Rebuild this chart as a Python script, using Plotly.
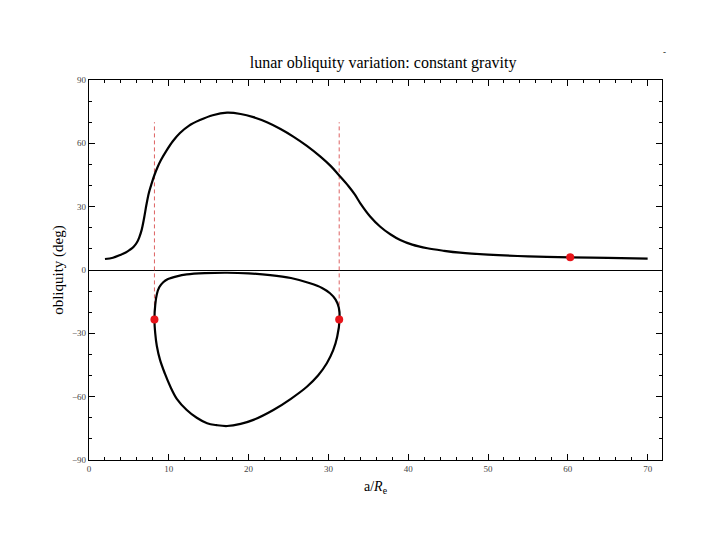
import plotly.graph_objects as go

# Upper branch of the obliquity curve
x_upper = [2.0, 3.0, 3.9, 4.6, 5.1, 5.6, 6.0, 6.3, 6.6, 6.9, 7.2, 7.5, 7.85, 8.2, 8.6, 9.0, 9.75,
           10.5, 11.4, 12.5, 13.9, 15.5, 17.3, 19.0, 20.6, 22.3, 24.0, 25.6, 27.3, 29.0,
           30.3, 31.3, 32.5, 33.3, 34.0, 35.2, 36.5, 37.8, 39.0, 40.5, 42.4, 44.5, 46.5,
           50.0, 55.0, 60.3, 65.0, 70.0]
y_upper = [5.2, 5.8, 7.1, 8.3, 9.5, 11.0, 13.0, 15.5, 19.0, 24.5, 31.0, 36.5, 41.0, 45.0, 48.8, 52.0, 56.8,
           61.0, 64.9, 68.3, 71.0, 73.3, 74.5, 73.9, 72.4, 70.0, 66.8, 63.2, 58.8, 53.7,
           49.2, 45.0, 39.8, 35.8, 31.6, 25.5, 20.5, 16.8, 14.2, 12.0, 10.3, 9.1, 8.2,
           7.3, 6.5, 6.0, 5.7, 5.4]

# Lower closed loop
x_loop = [8.2, 8.3, 8.5, 8.8, 9.3, 9.9, 11.0, 12.25, 14.5, 17.3, 20.0, 22.7, 25.3, 27.7, 29.2,
          30.2, 30.9, 31.3, 31.4, 31.1, 30.6, 29.8, 28.7, 27.3, 25.3, 23.1, 20.6, 19.0,
          17.3, 16.0, 14.8, 13.5, 12.25, 11.0, 10.2, 9.5, 8.9, 8.5, 8.3, 8.2]
y_loop = [-23.4, -16.5, -11.5, -8.2, -5.8, -4.3, -3.0, -2.1, -1.5, -1.3, -1.6, -2.4, -3.8, -6.3, -8.5,
          -11.0, -14.0, -17.8, -23.4, -31.6, -38.0, -44.2, -50.0, -55.3, -61.0, -66.3, -71.0, -72.9,
          -73.9, -73.5, -72.6, -70.0, -66.3, -61.0, -55.3, -49.0, -42.6, -36.0, -30.0, -23.4]

# Vertical dashed markers
dash_x = [8.2, 31.35]
dash_y_bottom = -23.4
dash_y_top = 70.0

# Red points
pt_x = [8.2, 31.35, 60.3]
pt_y = [-23.4, -23.4, 6.0]

x_ticks = [0, 10, 20, 30, 40, 50, 60, 70]
y_ticks = [-90, -60, -30, 0, 30, 60, 90]

serif = "Liberation Serif"

fig = go.Figure()

for xv in dash_x:
    fig.add_trace(go.Scatter(x=[xv, xv], y=[dash_y_bottom, dash_y_top], mode="lines",
                             line=dict(color="rgba(215,70,70,0.85)", width=1, dash="4px,3px"),
                             showlegend=False, hoverinfo="skip"))

fig.add_trace(go.Scatter(x=x_upper, y=y_upper, mode="lines",
                         line=dict(color="black", width=2.2, shape="spline", smoothing=1.0),
                         showlegend=False))
fig.add_trace(go.Scatter(x=x_loop, y=y_loop, mode="lines",
                         line=dict(color="black", width=2.2, shape="spline", smoothing=1.0),
                         showlegend=False))
fig.add_trace(go.Scatter(x=pt_x, y=pt_y, mode="markers",
                         marker=dict(color="#e8141a", size=8),
                         showlegend=False))

axis_common = dict(
    showgrid=False, showline=True, linecolor="black", linewidth=1.2,
    mirror="ticks", ticks="inside", ticklen=6, tickcolor="black", tickwidth=1,
    tickfont=dict(family=serif, size=9, color="#444"),
)

fig.update_xaxes(range=[0, 71.8], tickvals=x_ticks, zeroline=False,
                 minor=dict(dtick=2, ticklen=3, ticks="inside", tickcolor="black"),
                 title=dict(text="a/<i>R</i><sub>e</sub>", font=dict(family=serif, size=14, color="black"),
                            standoff=8),
                 **axis_common)
fig.update_yaxes(range=[-90, 90], tickvals=y_ticks, zeroline=True, zerolinecolor="black",
                 zerolinewidth=1.2,
                 minor=dict(dtick=10, ticklen=3, ticks="inside", tickcolor="black"),
                 title=dict(text="obliquity (deg)", font=dict(family=serif, size=15, color="black"),
                            standoff=4),
                 **axis_common)

fig.update_layout(
    width=720, height=540,
    margin=dict(l=81, r=66, t=72, b=88),
    paper_bgcolor="white", plot_bgcolor="white",
    title=dict(text="lunar obliquity variation: constant gravity", x=0.521, xanchor="center",
               y=0.9, yanchor="middle",
               font=dict(family=serif, size=16, color="black")),
    annotations=[dict(text="-", x=(664 - 89) / (662 - 89), y=(460 - 52) / (460 - 80),
                      xref="paper", yref="paper", showarrow=False,
                      xanchor="center", yanchor="middle",
                      font=dict(family=serif, size=9, color="black"))],
)

fig.write_html("out.html")
